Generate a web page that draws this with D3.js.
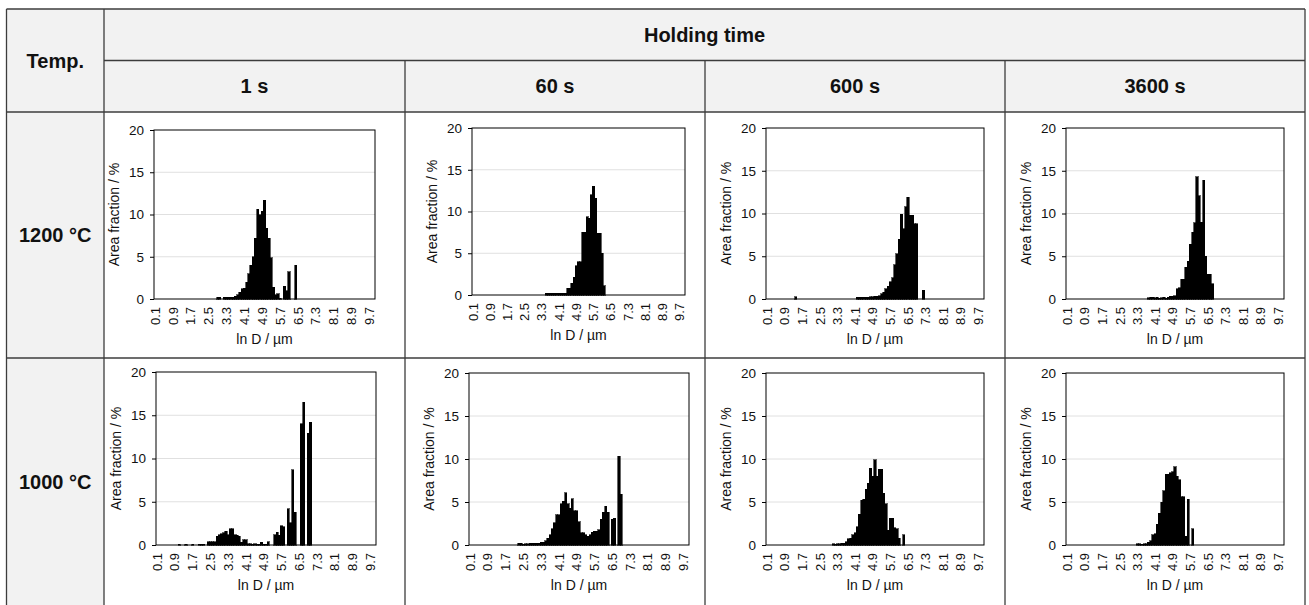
<!DOCTYPE html>
<html>
<head>
<meta charset="utf-8">
<script src="https://cdn.jsdelivr.net/npm/d3@7"></script>
<style>
  body { margin: 0; background: #fff; }
  svg { display: block; }
  text { font-family: Arial, "Liberation Sans", sans-serif; }
</style>
</head>
<body>
<svg id="chart" width="1309" height="605"></svg>
<script>
// ---- data ----
const binLabels = [
  "0.1","0.2","0.3","0.4","0.5","0.6","0.7","0.8","0.9","1.0",
  "1.1","1.2","1.3","1.4","1.5","1.6","1.7","1.8","1.9","2.0",
  "2.1","2.2","2.3","2.4","2.5","2.6","2.7","2.8","2.9","3.0",
  "3.1","3.2","3.3","3.4","3.5","3.6","3.7","3.8","3.9","4.0",
  "4.1","4.2","4.3","4.4","4.5","4.6","4.7","4.8","4.9","5.0",
  "5.1","5.2","5.3","5.4","5.5","5.6","5.7","5.8","5.9","6.0",
  "6.1","6.2","6.3","6.4","6.5","6.6","6.7","6.8","6.9","7.0",
  "7.1","7.2","7.3","7.4","7.5","7.6","7.7","7.8","7.9","8.0",
  "8.1","8.2","8.3","8.4","8.5","8.6","8.7","8.8","8.9","9.0",
  "9.1","9.2","9.3","9.4","9.5","9.6","9.7","9.8","9.9"
];
const tickLabels = ["0.1","0.9","1.7","2.5","3.3","4.1","4.9","5.7","6.5","7.3","8.1","8.9","9.7"];
const yTicks = [0, 5, 10, 15, 20];
const temps = ["1200 °C", "1000 °C"];
const holdTimes = ["1 s", "60 s", "600 s", "3600 s"];

// area fraction (%) per ln D bin, 0.1 .. 9.9
const s1200_1 = [
  0,0,0,0,0,0,0,0,0,0,
  0,0,0,0,0,0,0,0,0,0,
  0,0,0,0,0,0,0,0,0.2,0.2,
  0,0.2,0.2,0.2,0.2,0.2,0.3,0.5,0.8,1.2,
  1.3,2.0,3.0,4.0,5.0,7.2,10.6,10.0,10.4,11.7,
  8.4,7.2,4.9,1.4,0.5,0.6,0.1,0,1.5,1.0,
  3.2,0,0,4.0,0,0,0,0,0,0,
  0,0,0,0,0,0,0,0,0,0,
  0,0,0,0,0,0,0,0,0,0,
  0,0,0,0,0,0,0,0,0
];
const s1200_60 = [
  0,0,0,0,0,0,0,0,0,0,
  0,0,0,0,0,0,0,0,0,0,
  0,0,0,0,0,0,0,0,0,0,
  0,0,0,0,0.2,0.2,0.2,0.2,0.2,0.2,
  0.2,0.2,0.2,0.2,0.8,0.8,1.4,2.1,3.5,4.0,
  4.0,7.5,7.5,9.4,9.2,12.0,13.0,11.6,7.4,7.4,
  5.0,1.1,0,0,0,0,0,0,0,0,
  0,0,0,0,0,0,0,0,0,0,
  0,0,0,0,0,0,0,0,0,0,
  0,0,0,0,0,0,0,0,0
];
const s1200_600 = [
  0,0,0,0,0,0,0,0,0,0,
  0,0,0,0.25,0,0,0,0,0,0,
  0,0,0,0,0,0,0,0,0,0,
  0,0,0,0,0,0,0,0,0,0,
  0,0.2,0.2,0.2,0.2,0.2,0.2,0.25,0.25,0.3,
  0.3,0.4,0.6,0.8,1.2,1.5,2.0,2.5,4.0,5.3,
  7.0,9.9,8.2,10.8,11.9,9.8,9.8,8.8,8.8,0,
  0,1.0,0,0,0,0,0,0,0,0,
  0,0,0,0,0,0,0,0,0,0,
  0,0,0,0,0,0,0,0,0
];
const s1200_3600 = [
  0,0,0,0,0,0,0,0,0,0,
  0,0,0,0,0,0,0,0,0,0,
  0,0,0,0,0,0,0,0,0,0,
  0,0,0,0,0,0,0,0.15,0.2,0.2,
  0.15,0.2,0.1,0.15,0.2,0.1,0.2,0.3,0.3,0.4,
  1.2,1.3,2.3,2.3,3.7,4.4,6.4,7.8,8.9,14.3,
  12.1,9.0,13.9,5.0,2.9,2.9,1.8,0,0,0,
  0,0,0,0,0,0,0,0,0,0,
  0,0,0,0,0,0,0,0,0,0,
  0,0,0,0,0,0,0,0,0
];
const s1000_1 = [
  0,0,0,0,0,0,0,0,0,0,
  0.1,0,0,0.1,0,0,0.1,0,0,0.1,
  0.1,0.1,0,0.4,0.4,0.4,0.4,1.0,1.2,1.3,
  1.4,1.6,1.2,1.9,1.9,1.2,1.1,1.0,0.3,0.6,
  0.6,0.15,0.15,0.1,0.15,0.1,0.1,0.3,0.1,0.1,
  0.4,0,0,1.2,1.5,1.1,2.2,2.1,0,4.2,
  2.6,8.7,3.8,0,0,14.0,16.5,0,12.9,14.2,
  0,0,0,0,0,0,0,0,0,0,
  0,0,0,0,0,0,0,0,0,0,
  0,0,0,0,0,0,0,0,0
];
const s1000_60 = [
  0,0,0,0,0,0,0,0,0,0,
  0,0,0,0,0,0,0,0,0,0,
  0,0,0.2,0.2,0.1,0.15,0.15,0.2,0.2,0.2,
  0.2,0.2,0.3,0.3,0.5,0.8,1.2,1.9,2.6,3.5,
  3.5,4.8,5.1,6.1,4.8,4.3,5.4,4.0,4.0,2.7,
  1.4,1.4,1.2,1.0,1.2,1.5,1.6,1.6,1.8,3.0,
  3.8,4.5,3.8,0,3.0,3.1,0,10.3,5.9,0,
  0,0,0,0,0,0,0,0,0,0,
  0,0,0,0,0,0,0,0,0,0,
  0,0,0,0,0,0,0,0,0
];
const s1000_600 = [
  0,0,0,0,0,0,0,0,0,0,
  0,0,0,0,0,0,0,0,0,0,
  0,0,0,0,0,0,0,0,0,0,
  0.15,0.1,0.15,0.15,0.2,0.2,0.4,0.7,0.8,1.2,
  1.4,2.1,3.6,5.2,5.3,6.5,7.2,8.9,8.0,9.9,
  8.0,8.8,8.8,6.0,4.8,1.7,3.1,3.1,2.0,1.9,
  0.8,0,1.2,0,0,0,0,0,0,0,
  0,0,0,0,0,0,0,0,0,0,
  0,0,0,0,0,0,0,0,0,0,
  0,0,0,0,0,0,0,0,0
];
const s1000_3600 = [
  0,0,0,0,0,0,0,0,0,0,
  0,0,0,0,0,0,0,0,0,0,
  0,0,0,0,0,0,0,0,0,0,
  0,0,0.15,0.15,0.1,0.15,0.15,0.3,0.5,1.2,
  1.3,2.4,3.7,5.0,6.3,8.2,8.2,8.4,8.5,9.1,
  8.0,7.6,5.6,5.6,1.0,5.3,0,1.9,0,0,
  0,0,0,0,0,0,0,0,0,0,
  0,0,0,0,0,0,0,0,0,0,
  0,0,0,0,0,0,0,0,0,0,
  0,0,0,0,0,0,0,0,0
];
const seriesGrid = [
  [s1200_1, s1200_60, s1200_600, s1200_3600],
  [s1000_1, s1000_60, s1000_600, s1000_3600],
];

// ---- table layout ----
const colX = [6.5, 104, 405, 705, 1005, 1305];
const rowY = [9, 60.5, 112, 358, 614];
const LINE = "#3c3c3c";
const HEAD_BG = "#f2f2f2";

// plot boxes inside each cell [x, y, w, h]
const plotBoxes = [
  [[154, 130, 221, 169], [472, 128, 213, 167], [766, 128, 218, 171], [1066, 128, 218, 171]],
  [[156, 372, 220, 173], [469, 373, 220, 172], [766, 373, 218, 172], [1066, 373, 218, 172]],
];

const svg = d3.select("#chart");

// backgrounds
svg.append("rect").attr("x", colX[0]).attr("y", rowY[0])
  .attr("width", colX[5] - colX[0]).attr("height", rowY[2] - rowY[0]).attr("fill", HEAD_BG);
svg.append("rect").attr("x", colX[0]).attr("y", rowY[2])
  .attr("width", colX[1] - colX[0]).attr("height", rowY[4] - rowY[2]).attr("fill", HEAD_BG);

// header text
const bold = (sel) => sel.attr("font-size", 20).attr("font-weight", "bold").attr("fill", "#111")
  .attr("text-anchor", "middle").attr("dominant-baseline", "central");

svg.append("text").attr("x", (colX[0] + colX[1]) / 2).attr("y", (rowY[0] + rowY[2]) / 2)
  .text("Temp.").call(bold);
svg.append("text").attr("x", (colX[1] + colX[5]) / 2).attr("y", (rowY[0] + rowY[1]) / 2)
  .text("Holding time").call(bold);
holdTimes.forEach((t, i) => {
  svg.append("text").attr("x", (colX[i + 1] + colX[i + 2]) / 2).attr("y", (rowY[1] + rowY[2]) / 2)
    .text(t).call(bold);
});
temps.forEach((t, r) => {
  const y1 = rowY[r + 2], y2 = Math.min(rowY[r + 3], 605);
  svg.append("text").attr("x", (colX[0] + colX[1]) / 2).attr("y", (y1 + y2) / 2)
    .text(t).call(bold);
});

// ---- histograms ----
const x = d3.scaleBand().domain(binLabels).padding(0);
const yBase = d3.scaleLinear().domain([0, 20]);

seriesGrid.forEach((row, r) => {
  row.forEach((values, c) => {
    const [px, py, pw, ph] = plotBoxes[r][c];
    const xs = x.copy().range([px, px + pw]);
    const ys = yBase.copy().range([py + ph, py]);
    const g = svg.append("g");

    g.selectAll("line.grid").data(yTicks.filter((v) => v > 0 && v < 20)).join("line")
      .attr("x1", px).attr("x2", px + pw)
      .attr("y1", (d) => ys(d)).attr("y2", (d) => ys(d))
      .attr("stroke", "#e0e0e0").attr("stroke-width", 1);

    g.selectAll("rect.bar").data(binLabels.map((b, i) => ({ b, v: values[i] })).filter((d) => d.v > 0))
      .join("rect")
      .attr("x", (d) => xs(d.b))
      .attr("width", xs.bandwidth())
      .attr("y", (d) => ys(d.v))
      .attr("height", (d) => ys(0) - ys(d.v))
      .attr("fill", "#000").attr("stroke", "#000").attr("stroke-width", 0.6)
      .attr("shape-rendering", "crispEdges");

    g.append("rect").attr("x", px).attr("y", py).attr("width", pw).attr("height", ph)
      .attr("fill", "none").attr("stroke", "#000").attr("stroke-width", 1);

    const yAxis = g.append("g").attr("transform", `translate(${px},0)`)
      .call(d3.axisLeft(ys).tickValues(yTicks).tickSize(4).tickPadding(6));
    yAxis.select(".domain").remove();
    yAxis.selectAll("line").attr("stroke", "#000");
    yAxis.selectAll("text").attr("font-size", 13.5).attr("fill", "#111")
      .attr("font-family", "Arial, 'Liberation Sans', sans-serif");

    const xAxis = g.append("g").attr("transform", `translate(0,${py + ph})`)
      .call(d3.axisBottom(xs).tickValues(tickLabels).tickSize(0));
    xAxis.select(".domain").remove();
    xAxis.selectAll("text")
      .attr("transform", "rotate(-90)")
      .attr("text-anchor", "end")
      .attr("x", -8).attr("y", 0).attr("dy", "0.35em")
      .attr("font-size", 13).attr("fill", "#111")
      .attr("font-family", "Arial, 'Liberation Sans', sans-serif");

    g.append("text")
      .attr("transform", `translate(${px - 40},${py + ph / 2}) rotate(-90)`)
      .attr("text-anchor", "middle").attr("dominant-baseline", "central")
      .attr("font-size", 14).attr("fill", "#111")
      .text("Area fraction / %");

    g.append("text")
      .attr("x", px + pw / 2).attr("y", py + ph + 45)
      .attr("text-anchor", "middle")
      .attr("font-size", 14).attr("fill", "#111")
      .text("ln D / µm");
  });
});

// ---- table lines ----
const lines = [
  [colX[0], rowY[0], colX[5], rowY[0]],
  [colX[1], rowY[1], colX[5], rowY[1]],
  [colX[0], rowY[2], colX[5], rowY[2]],
  [colX[0], rowY[3], colX[5], rowY[3]],
  [colX[0], rowY[0], colX[0], rowY[4]],
  [colX[1], rowY[0], colX[1], rowY[4]],
  [colX[2], rowY[1], colX[2], rowY[4]],
  [colX[3], rowY[1], colX[3], rowY[4]],
  [colX[4], rowY[1], colX[4], rowY[4]],
  [colX[5], rowY[0], colX[5], rowY[4]],
];
svg.selectAll("line.tbl").data(lines).join("line")
  .attr("x1", (d) => d[0]).attr("y1", (d) => d[1])
  .attr("x2", (d) => d[2]).attr("y2", (d) => d[3])
  .attr("stroke", LINE).attr("stroke-width", 1.3);
</script>
</body>
</html>
